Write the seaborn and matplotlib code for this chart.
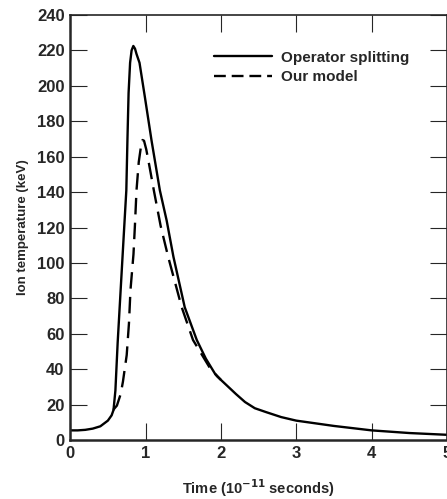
import matplotlib
matplotlib.use("Agg")
import matplotlib.pyplot as plt
import seaborn as sns

# values
time_split = [0, 0.1, 0.2, 0.3, 0.4, 0.5, 0.55, 0.575, 0.6, 0.63, 0.67, 0.71, 0.745,
              0.76, 0.775, 0.795, 0.815, 0.838, 0.86, 0.88, 0.92, 0.99, 1.08, 1.19,
              1.28, 1.37, 1.52, 1.68, 1.8, 1.92, 2.0, 2.1, 2.2, 2.32, 2.45, 2.6, 2.8,
              3.0, 3.5, 4.0, 4.5, 5.0]
temp_split = [5.5, 5.5, 5.8, 6.5, 7.8, 11, 14, 17, 28, 55, 85, 115, 141,
              170, 196, 213, 220, 222.5, 221, 218, 213, 194, 169, 141,
              124, 103.5, 75, 56.5, 46, 37.6, 34, 30, 26, 21.5, 18, 15.8, 13,
              11, 8, 5.5, 4, 3]

time_model = [0.57, 0.62, 0.67, 0.7, 0.75, 0.78, 0.8, 0.84, 0.86, 0.88, 0.91, 0.94,
              0.96, 0.98, 1.01, 1.05, 1.11, 1.2, 1.3, 1.48, 1.63, 1.85, 1.95, 2.0]
temp_model = [17, 19.5, 26, 33, 48, 66, 84.7, 105, 122, 141, 157, 166,
              169.4, 169, 164, 155, 141, 121, 103.5, 75, 56.5, 41, 36, 34]

xticks = [0, 1, 2, 3, 4, 5]
yticks = list(range(0, 241, 20))

sns.set_style("ticks")
plt.rcParams['font.family'] = ['Liberation Sans', 'DejaVu Sans']

fig = plt.figure(figsize=(4.47, 4.99), dpi=100)
ax = fig.add_axes([0.157, 0.118, 0.843, 0.852])

sns.lineplot(x=time_split, y=temp_split, ax=ax, color='black', lw=1.7,
             label='Operator splitting', sort=False)
sns.lineplot(x=time_model, y=temp_model, ax=ax, color='black', lw=1.7,
             label='Our model', sort=False)
ax.lines[1].set_dashes([7, 3.5])

ax.set_xlim(0, 5)
ax.set_ylim(0, 240)
ax.set_xticks(xticks)
ax.set_yticks(yticks)
ax.tick_params(direction='in', length=12, width=0.8, top=True, right=True,
               labelsize=12, pad=4)
for lab in ax.get_xticklabels() + ax.get_yticklabels():
    lab.set_fontweight('bold')

for side in ['left', 'bottom']:
    ax.spines[side].set_linewidth(1.8)
for side in ['top', 'right']:
    ax.spines[side].set_linewidth(1.2)

ax.set_xlabel('Time (10$^{\\mathbf{-11}}$ seconds)', fontsize=10.5, fontweight='bold',
              labelpad=12)
ax.set_ylabel('Ion temperature (keV)', fontsize=9.5, fontweight='bold', labelpad=6)

leg = ax.legend(loc='upper left', bbox_to_anchor=(0.365, 0.93), frameon=False,
                handlelength=3.8, borderaxespad=0, labelspacing=0.35,
                handletextpad=0.6, prop={'weight': 'bold', 'size': 11})
# the legend handle for the dashed series
leg.get_lines()[1].set_linestyle((0, (5, 2.5)))

fig.savefig('out.png', dpi=100)
